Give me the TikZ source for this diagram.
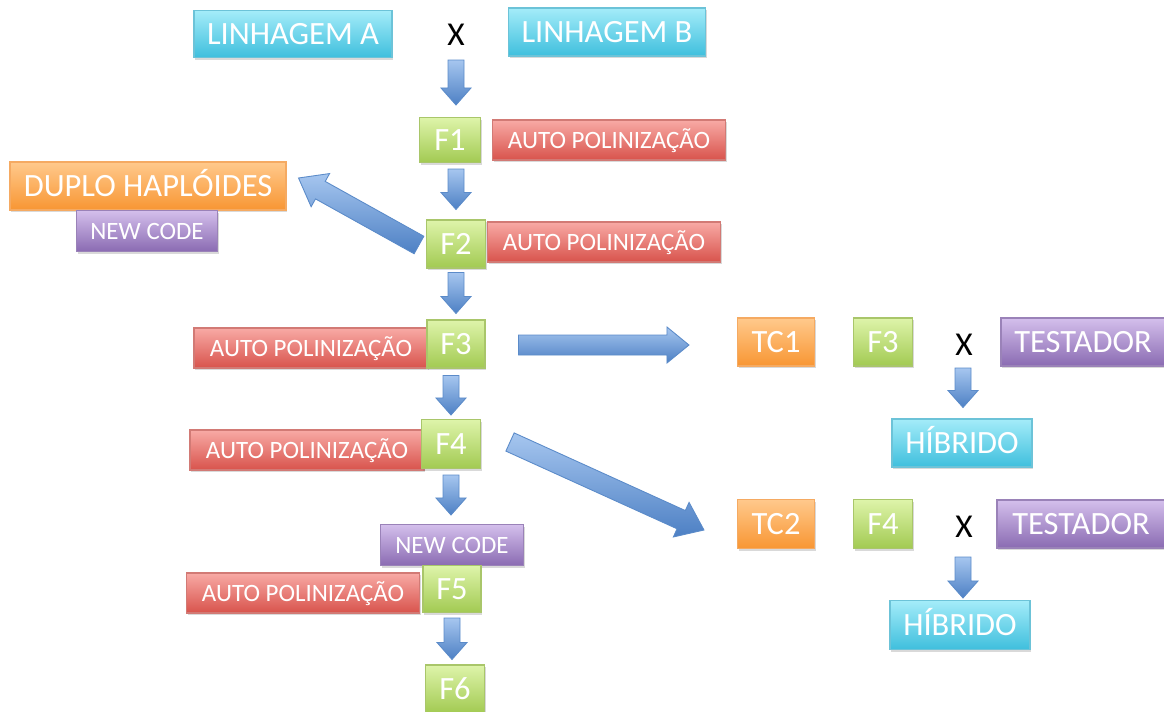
\documentclass[tikz,border=0pt]{standalone}
\usepackage{fontspec}
\setmainfont{Carlito}
\usetikzlibrary{calc,shadows}

\definecolor{cyantop}{HTML}{A4ECF9}
\definecolor{cyanbot}{HTML}{3FBFDD}
\definecolor{cyanline}{HTML}{6CC3D8}
\definecolor{greentop}{HTML}{DEF4AA}
\definecolor{greenbot}{HTML}{A2CA52}
\definecolor{greenline}{HTML}{A9C66A}
\definecolor{redtop}{HTML}{F8AAA5}
\definecolor{redbot}{HTML}{D8534C}
\definecolor{redline}{HTML}{D27A75}
\definecolor{orangetop}{HTML}{FFC98C}
\definecolor{orangebot}{HTML}{F89633}
\definecolor{orangeline}{HTML}{F5AA62}
\definecolor{purpletop}{HTML}{D4BFEC}
\definecolor{purplebot}{HTML}{8A6BB2}
\definecolor{purpleline}{HTML}{9A82B8}
\definecolor{arrtop}{HTML}{A6C6EF}
\definecolor{arrbot}{HTML}{4D80C4}
\definecolor{arrline}{HTML}{5B8BC9}

\tikzset{
  sz/.style 2 args={minimum width=#1*0.02cm, minimum height=#2*0.02cm},
  box/.style={draw, line width=0.6pt, inner sep=0pt, text=white,
    font=\fontsize{18.5}{22}\selectfont, text height=11.9pt, text depth=0pt,
    drop shadow={shadow xshift=0.7pt, shadow yshift=-1.2pt, opacity=0.3}},
  small/.style={font=\fontsize{14.2}{17}\selectfont, text height=9.1pt},
  linbox/.style={box, draw=cyanline, top color=cyantop, bottom color=cyanbot},
  genbox/.style={box, draw=greenline, top color=greentop, bottom color=greenbot},
  polbox/.style={box, small, draw=redline, top color=redtop, bottom color=redbot},
  dhbox/.style={box, draw=orangeline, top color=orangetop, bottom color=orangebot},
  codebox/.style={box, draw=purpleline, top color=purpletop, bottom color=purplebot},
  cross/.style={font=\fontsize{19}{22}\selectfont, inner sep=0pt},
  blockarr/.style={draw=arrline, line width=0.5pt, top color=arrtop, bottom color=arrbot}
}

% block arrow: from, to, half shaft, half head, head length
\newcommand{\bigarrow}[5]{%
  \coordinate (hb) at ($(#2)!#5!(#1)$);
  \path[blockarr] ($(#1)!#3!90:(#2)$) -- ($(hb)!#3!90:(#2)$) -- ($(hb)!#4!90:(#2)$)
    -- (#2) -- ($(hb)!#4!-90:(#2)$) -- ($(hb)!#3!-90:(#2)$) -- ($(#1)!#3!-90:(#2)$) -- cycle;}

\begin{document}
\begin{tikzpicture}[x=0.02cm, y=-0.02cm]
\useasboundingbox (0,0) rectangle (1164,711);

% crossing and selfing line
\node[linbox, sz={198}{47}] (linA) at (293,34) {LINHAGEM A};
\node[cross] (crossA) at (456,35) {X};
\node[linbox, sz={197}{48}] (linB) at (607,32) {LINHAGEM B};
\node[genbox, sz={61}{45}] (f1) at (450,140) {F1};
\node[polbox, sz={233}{40}] (pol1) at (609,140) {AUTO POLINIZAÇÃO};
\node[genbox, sz={59}{48}] (f2) at (456,244) {F2};
\node[polbox, sz={233}{40}] (pol2) at (604,242) {AUTO POLINIZAÇÃO};
\node[dhbox, sz={276}{48}] (dh) at (148,186) {DUPLO HAPLÓIDES};
\node[codebox, small, sz={141}{41}] (code1) at (147,231) {NEW CODE};
\node[polbox, sz={234}{40}] (pol3) at (311,348) {AUTO POLINIZAÇÃO};
\node[genbox, sz={58}{48}] (f3) at (456,344) {F3};
\node[polbox, sz={234}{40}] (pol4) at (307,450) {AUTO POLINIZAÇÃO};
\node[genbox, sz={59}{49}] (f4) at (451,444) {F4};
\node[codebox, small, sz={143}{41}] (code2) at (452,545) {NEW CODE};
\node[polbox, sz={233}{40}] (pol5) at (303,593) {AUTO POLINIZAÇÃO};
\node[genbox, sz={58}{47}] (f5) at (452,589) {F5};
\node[genbox, sz={59}{48}] (f6) at (455,689) {F6};

% testcrosses
\node[dhbox, sz={77}{48}] (tc1) at (776,342) {TC1};
\node[genbox, sz={59}{48}] (f3b) at (883,342) {F3};
\node[cross] (cross1) at (964,345) {X};
\node[codebox, sz={164}{48}] (test1) at (1083,342) {TESTADOR};
\node[linbox, sz={140}{48}] (hib1) at (962,443) {HÍBRIDO};
\node[dhbox, sz={77}{49}] (tc2) at (776,524) {TC2};
\node[genbox, sz={59}{49}] (f4b) at (883,524) {F4};
\node[cross] (cross2) at (964,527) {X};
\node[codebox, sz={168}{48}] (test2) at (1081,524) {TESTADOR};
\node[linbox, sz={140}{49}] (hib2) at (960,625) {HÍBRIDO};

% arrows
\coordinate (a1s) at ($(crossA)+(0,25)$);
\coordinate (a1e) at ($(f1.north -| crossA)+(0,-12)$);
\bigarrow{a1s}{a1e}{0.16cm}{0.3cm}{0.34cm}
\coordinate (a2s) at ($(f1.south -| f2)+(0,6)$);
\coordinate (a2e) at ($(f2.north)+(0,-10)$);
\bigarrow{a2s}{a2e}{0.16cm}{0.3cm}{0.34cm}
\coordinate (a3s) at ($(f2.south)+(0,4)$);
\coordinate (a3e) at ($(f3.north)+(0,-6)$);
\bigarrow{a3s}{a3e}{0.16cm}{0.3cm}{0.34cm}
\coordinate (a4s) at ($(f3.south -| f4)+(0,7)$);
\coordinate (a4e) at ($(f4.north)+(0,-4)$);
\bigarrow{a4s}{a4e}{0.16cm}{0.3cm}{0.34cm}
\coordinate (a5s) at ($(f4.south)+(0,6)$);
\coordinate (a5e) at ($(code2.north -| f4)+(0,-9)$);
\bigarrow{a5s}{a5e}{0.16cm}{0.3cm}{0.34cm}
\coordinate (a6s) at ($(f5.south)+(0,5)$);
\coordinate (a6e) at ($(f6.north -| f5)+(0,-5)$);
\bigarrow{a6s}{a6e}{0.16cm}{0.3cm}{0.34cm}
\coordinate (a7s) at ($(f2.west)+(-7,1)$);
\coordinate (a7e) at ($(dh.east)+(12,-8)$);
\bigarrow{a7s}{a7e}{0.2cm}{0.38cm}{0.5cm}
\coordinate (a8s) at ($(f3.east)+(33,1)$);
\coordinate (a8e) at ($(tc1.west)+(-48,3)$);
\bigarrow{a8s}{a8e}{0.2cm}{0.36cm}{0.44cm}
\coordinate (a9s) at ($(f4.east)+(29,-2)$);
\coordinate (a9e) at ($(tc2.west)+(-33,6)$);
\bigarrow{a9s}{a9e}{0.2cm}{0.38cm}{0.5cm}
\coordinate (a10s) at ($(cross1)+(-1,23)$);
\coordinate (a10e) at ($(hib1.north -| a10s)+(0,-11)$);
\bigarrow{a10s}{a10e}{0.16cm}{0.3cm}{0.34cm}
\coordinate (a11s) at ($(cross2)+(-1,30)$);
\coordinate (a11e) at ($(hib2.north -| a11s)+(0,-2)$);
\bigarrow{a11s}{a11e}{0.16cm}{0.3cm}{0.34cm}
\end{tikzpicture}
\end{document}
